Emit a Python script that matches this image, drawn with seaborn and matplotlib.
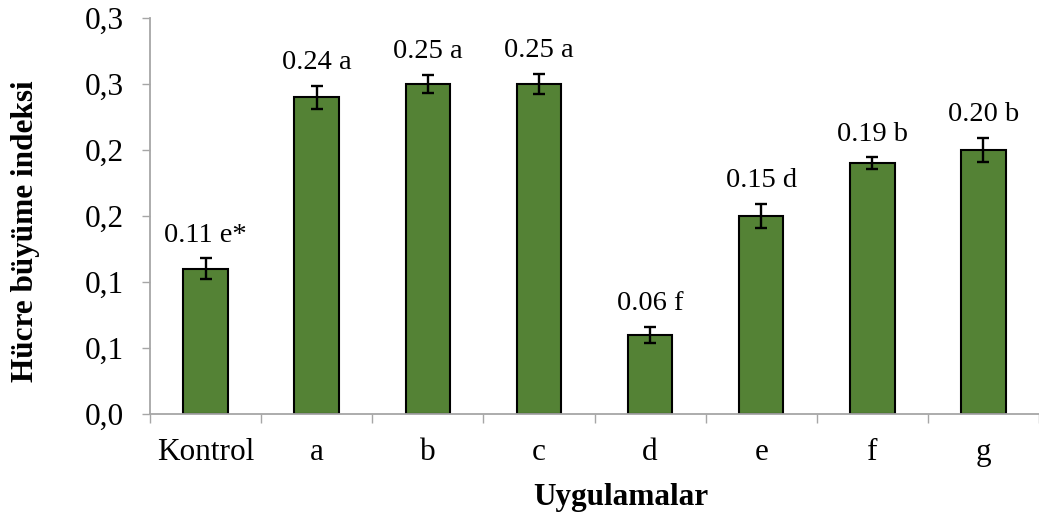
import matplotlib
matplotlib.use("Agg")
import matplotlib.pyplot as plt
import seaborn as sns
import pandas as pd

# values
categories = ["Kontrol", "a", "b", "c", "d", "e", "f", "g"]
means = [0.110, 0.240, 0.250, 0.250, 0.060, 0.150, 0.190, 0.200]
errors = [0.008, 0.0087, 0.007, 0.0075, 0.006, 0.009, 0.0045, 0.009]
bar_labels = ["0.11 e*", "0.24 a", "0.25 a", "0.25 a", "0.06 f", "0.15 d", "0.19 b", "0.20 b"]
ytick_values = [0.0, 0.05, 0.10, 0.15, 0.20, 0.25, 0.30]
ytick_labels = ["0,0", "0,1", "0,1", "0,2", "0,2", "0,3", "0,3"]

sns.set_style("white")
plt.rcParams["font.family"] = ["Liberation Serif", "DejaVu Serif"]
plt.rcParams["text.color"] = "black"
plt.rcParams["axes.labelcolor"] = "black"

df = pd.DataFrame({"Uygulama": categories, "Deger": means})

fig = plt.figure(figsize=(10.39, 5.21), dpi=100)
ax = fig.add_axes([150 / 1039, 1 - 414 / 521, 889 / 1039, 396 / 521])

sns.barplot(data=df, x="Uygulama", y="Deger", color="#548235", saturation=1,
            width=0.4, edgecolor="black", linewidth=1.5, errorbar=None, ax=ax)

xs = list(range(len(categories)))
ax.errorbar(xs, means, yerr=errors, fmt="none", ecolor="black",
            elinewidth=1.7, capsize=4.3, capthick=1.7, zorder=5)

for x, m, e, lab in zip(xs, means, errors, bar_labels):
    ax.annotate(lab, xy=(x, m + e), xytext=(0, 12), textcoords="offset points",
                ha="center", va="baseline", fontsize=20.5)

ax.set_xlim(-0.5, 7.444)
ax.set_ylim(0, 0.30)
ax.set_yticks(ytick_values)
ax.set_yticklabels(ytick_labels)

# ticks between categories on the x axis, names in the middle
ax.set_xticks([i - 0.5 for i in range(len(categories) + 1)], minor=False)
ax.set_xticklabels([])
ax.set_xticks(xs, minor=True)
ax.set_xticklabels(categories, minor=True)
ax.tick_params(axis="x", which="major", direction="out", length=6.5, width=1,
               color="#a6a6a6", bottom=True)
ax.tick_params(axis="x", which="minor", length=0, labelsize=22.5, pad=17.5,
               labelcolor="black")
ax.tick_params(axis="y", direction="out", length=6, width=1, color="#a6a6a6",
               labelsize=22.5, pad=13, left=True, labelcolor="black")

for side in ["top", "right"]:
    ax.spines[side].set_visible(False)
for side in ["left", "bottom"]:
    ax.spines[side].set_color("#a6a6a6")
    ax.spines[side].set_linewidth(1.3)

ax.set_xlabel("Uygulamalar", fontsize=22.5, fontweight="bold")
ax.set_ylabel("Hücre büyüme indeksi", fontsize=22.5, fontweight="bold")
ax.xaxis.set_label_coords(0.530, -0.212)
ax.yaxis.set_label_coords(-0.1395, 0.462)
ax.xaxis.label.set_va("center")
ax.yaxis.label.set_va("center")

fig.savefig("out.png", dpi=100)
